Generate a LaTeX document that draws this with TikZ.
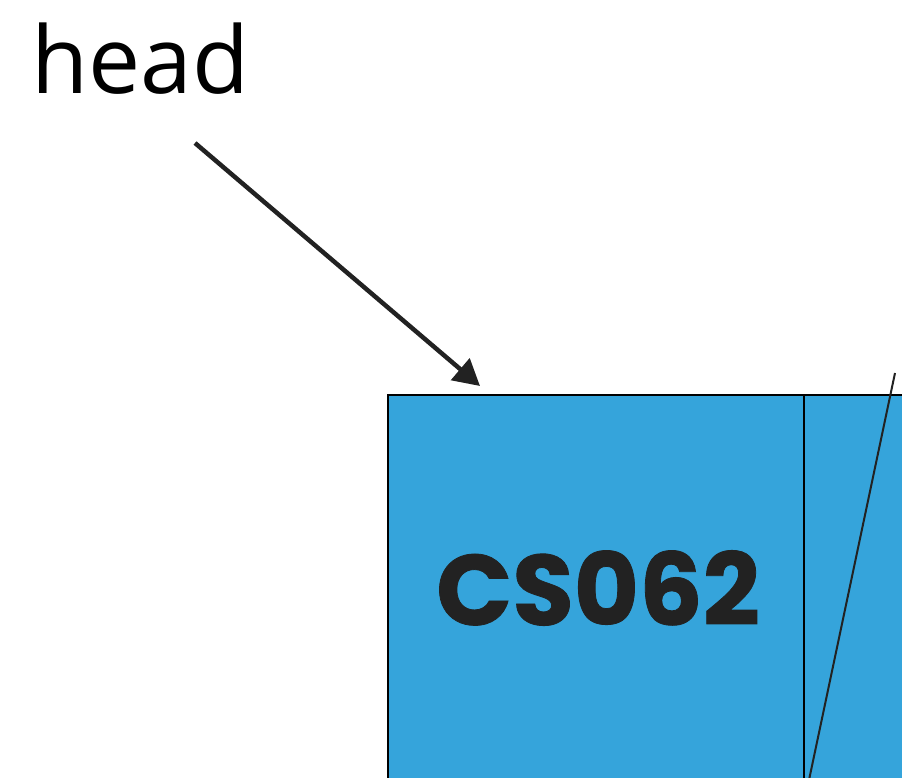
\documentclass[tikz,border=0pt]{standalone}
\usepackage{fontspec}
\setmainfont{Open Sans}
\newfontfamily\labelfont[BoldFeatures={FakeBold=0.8}]{Poppins}
\usetikzlibrary{arrows.meta}
\definecolor{nodeblue}{HTML}{35A4DB}
\definecolor{ink}{HTML}{222222}
\begin{document}
\begin{tikzpicture}[x=1pt,y=-1pt,
  cell/.style={draw=black,line width=2pt,fill=nodeblue},
  pointer/.style={draw=ink,line width=4.5pt,-{Triangle[length=26pt,width=28pt]}},
  nulllink/.style={draw=ink,line width=2pt}]
\useasboundingbox (0,0) rectangle (902,778);
\begin{scope}
\clip (0,0) rectangle (902,778);
% list node: data cell and next cell
\path[cell] (388,395) rectangle (804,800);
\path[cell] (804,395) rectangle (1000,800);
\node[font=\labelfont\bfseries\fontsize{100}{100}\selectfont,text=ink] (data) at (598,588) {CS062};
% null next pointer
\coordinate (slashtop) at (895,373);
\coordinate (slashbot) at (809,780);
\draw[nulllink] (slashtop) -- (slashbot);
\end{scope}
\node[font=\fontsize{93}{93}\selectfont,anchor=base west,inner sep=0pt] (head) at (31,94) {head};
\coordinate (headtail) at (195,143);
\coordinate (headtip) at (480,386);
\draw[pointer] (headtail) -- (headtip);
\end{tikzpicture}
\end{document}
